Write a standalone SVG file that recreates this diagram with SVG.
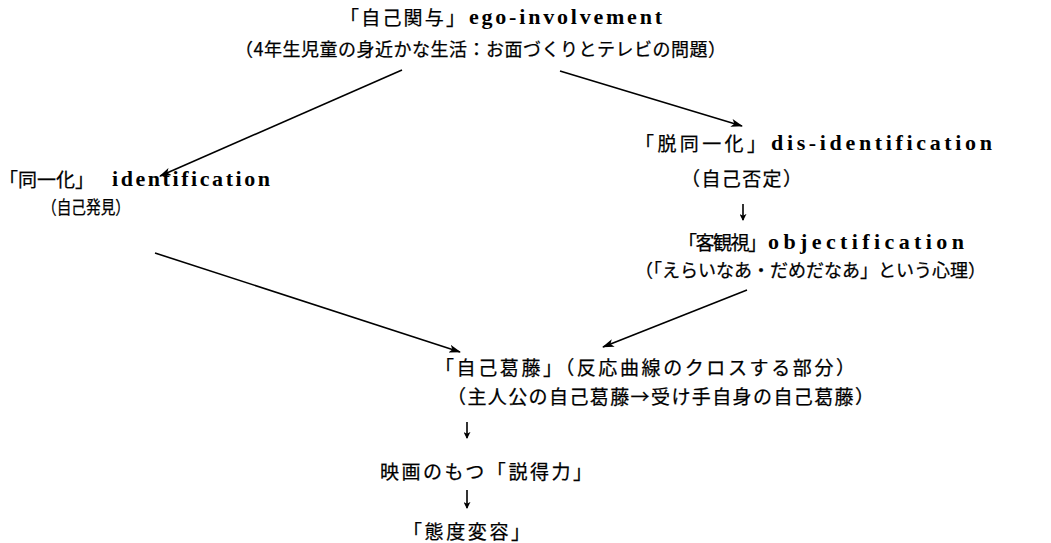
<svg xmlns="http://www.w3.org/2000/svg" width="1051" height="543" viewBox="0 0 1051 543">
<style>
.j{font-family:"Noto Sans CJK JP","Noto Sans CJK SC",sans-serif;font-size:19px;font-weight:normal;fill:#000;stroke:#000;stroke-width:0.25;}
.e{font-family:"Liberation Serif",serif;font-weight:bold;font-size:22px;fill:#000;}
.c{stroke:#000;stroke-width:1.6;fill:none;}
.s{stroke:#000;stroke-width:1.6;fill:none;}
</style>
<defs>
<marker id="ah" viewBox="0 0 12 8" refX="11" refY="4" markerWidth="12" markerHeight="8" markerUnits="userSpaceOnUse" orient="auto">
<path d="M0,0 L12,4 L0,8 L3,4 Z" fill="#000"/>
</marker>
<marker id="sh" viewBox="0 0 8 8" refX="7" refY="4" markerWidth="7" markerHeight="7" markerUnits="userSpaceOnUse" orient="auto">
<path d="M0,0 L8,4 L0,8 L2,4 Z" fill="#000"/>
</marker>
</defs>
<rect width="1051" height="543" fill="#fff"/>
<g id="connectors">
<line class="c" x1="402" y1="70" x2="160" y2="176" marker-end="url(#ah)"/>
<line class="c" x1="560" y1="71" x2="742" y2="126" marker-end="url(#ah)"/>
<line class="c" x1="747" y1="290" x2="603" y2="347" marker-end="url(#ah)"/>
<line class="c" x1="155" y1="253" x2="460" y2="352" marker-end="url(#ah)"/>
<line class="s" x1="743" y1="204" x2="743" y2="220" marker-end="url(#sh)"/>
<line class="s" x1="467" y1="422" x2="467" y2="438" marker-end="url(#sh)"/>
<line class="s" x1="467" y1="490" x2="467" y2="508" marker-end="url(#sh)"/>
</g>
<g id="ego-involvement">
<text class="j" x="340" y="25" textLength="125" lengthAdjust="spacing">「自己関与」</text>
<text class="e" x="469" y="24" textLength="193" lengthAdjust="spacing">ego-involvement</text>
<text class="j" x="235" y="56" style="font-size:18px" textLength="491" lengthAdjust="spacing">（4年生児童の身近かな生活：お面づくりとテレビの問題）</text>
</g>
<g id="identification">
<text class="j" x="-1" y="187" textLength="95" lengthAdjust="spacing">「同一化」</text>
<text class="e" x="112" y="186" textLength="158" lengthAdjust="spacing">identification</text>
<text class="j" x="42" y="214" style="font-size:18px" textLength="88" lengthAdjust="spacingAndGlyphs">（自己発見）</text>
</g>
<g id="dis-identification">
<text class="j" x="635" y="151" textLength="131" lengthAdjust="spacing">「脱同一化」</text>
<text class="e" x="771" y="150" textLength="221" lengthAdjust="spacing">dis-identification</text>
<text class="j" x="681" y="186" textLength="121" lengthAdjust="spacing">（自己否定）</text>
</g>
<g id="objectification">
<text class="j" x="678" y="250" textLength="89" lengthAdjust="spacing">「客観視」</text>
<text class="e" x="768" y="249" textLength="196" lengthAdjust="spacing">objectification</text>
<text class="j" x="635" y="277" style="font-size:18px" textLength="351" lengthAdjust="spacing">（「えらいなあ・だめだなあ」という心理）</text>
</g>
<g id="self-conflict">
<text class="j" x="435" y="375" textLength="420" lengthAdjust="spacing">「自己葛藤」（反応曲線のクロスする部分）</text>
<text class="j" x="447" y="404" textLength="427" lengthAdjust="spacing">（主人公の自己葛藤→受け手自身の自己葛藤）</text>
</g>
<g id="persuasion">
<text class="j" x="380" y="479" textLength="212" lengthAdjust="spacing">映画のもつ「説得力」</text>
</g>
<g id="attitude-change">
<text class="j" x="403" y="539" textLength="127" lengthAdjust="spacing">「態度変容」</text>
</g>
</svg>
